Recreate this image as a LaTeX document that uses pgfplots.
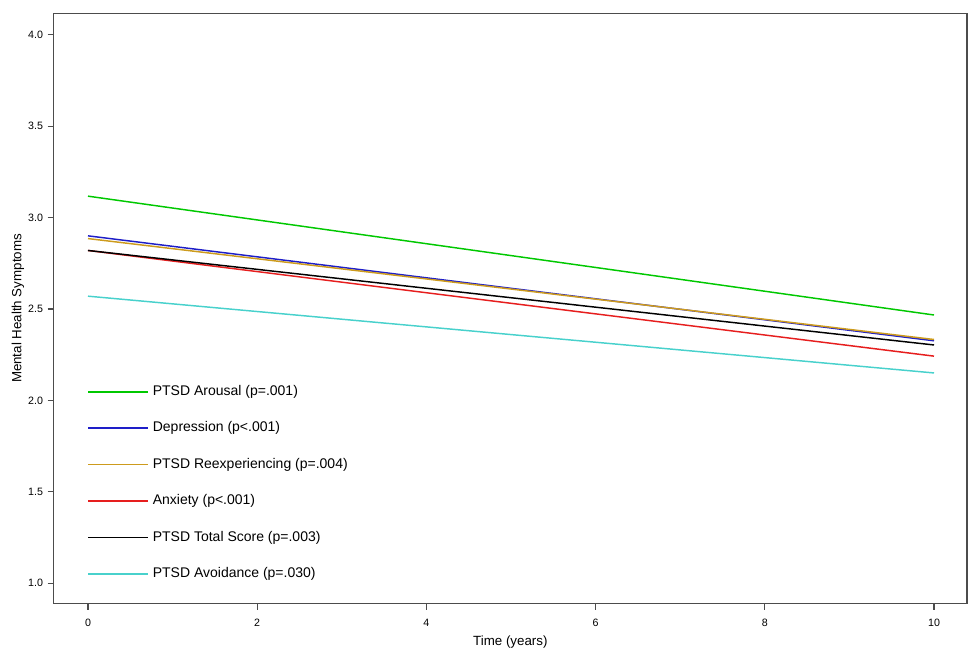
\documentclass[border=0pt]{standalone}
\usepackage{pgfplots}
\pgfplotsset{compat=1.18}
\usepackage{fontspec}
\setmainfont{Liberation Sans}
\definecolor{cgreen}{RGB}{0,200,0}
\definecolor{cblue}{RGB}{30,30,200}
\definecolor{cgold}{RGB}{205,155,29}
\definecolor{cred}{RGB}{230,30,30}
\definecolor{ccyan}{RGB}{72,209,204}
\begin{document}
\begin{tikzpicture}
\begin{axis}[
  scale only axis,
  width=685pt, height=442.8pt,
  xmin=-0.405, xmax=10.39,
  ymin=0.888, ymax=4.117,
  xtick={0,2,4,6,8,10},
  ytick={1.0,1.5,2.0,2.5,3.0,3.5,4.0},
  yticklabel style={/pgf/number format/.cd, fixed, fixed zerofill, precision=1},
  xticklabel style={yshift=-3.5pt},
  /pgf/number format/assume math mode=true,
  tick align=outside,
  major tick length=4.5pt,
  xtick pos=bottom, ytick pos=left,
  axis line style={draw=black!70, line width=0.8pt},
  tick style={draw=black!70, line width=0.8pt},
  ticklabel style={font=\fontsize{8}{9}\selectfont},
  xlabel={Time (years)},
  ylabel={Mental Health Symptoms},
  label style={font=\fontsize{10}{12}\selectfont},
  xlabel style={at={(axis description cs:0.5,-0.065)}, anchor=center},
  ylabel style={at={(axis description cs:-0.0391,0.5)}, anchor=center},
  legend cell align=left,
  legend image code/.code={\draw[#1, line width=1.2pt] (0pt,0pt) -- (45pt,0pt);},
  legend style={at={(rel axis cs:0.0364,0.370)}, anchor=north west,
    draw=none, fill=none, font=\fontsize{10.5}{12}\selectfont,
    row sep=17.8pt, column sep=3pt, inner sep=0pt,
    nodes={inner sep=0pt, text height=7.5pt, text depth=2pt}},
]
\addplot[cgreen, line width=1.1pt] coordinates {(0,3.117) (10,2.467)};
\addlegendentry{PTSD Arousal (p=.001)}
\addplot[cblue, line width=1.1pt] coordinates {(0,2.900) (10,2.326)};
\addlegendentry{Depression (p<.001)}
\addplot[cgold, line width=1.1pt] coordinates {(0,2.885) (10,2.333)};
\addlegendentry{PTSD Reexperiencing (p=.004)}
\addplot[cred, line width=1.1pt] coordinates {(0,2.820) (10,2.242)};
\addlegendentry{Anxiety (p<.001)}
\addplot[black, line width=1.1pt] coordinates {(0,2.820) (10,2.303)};
\addlegendentry{PTSD Total Score (p=.003)}
\addplot[ccyan, line width=1.1pt] coordinates {(0,2.570) (10,2.150)};
\addlegendentry{PTSD Avoidance (p=.030)}
\end{axis}
\useasboundingbox ([xshift=-40.3pt,yshift=-31.7pt]current axis.south west) rectangle ([xshift=0.75pt,yshift=10pt]current axis.north east);
\end{tikzpicture}
\end{document}
